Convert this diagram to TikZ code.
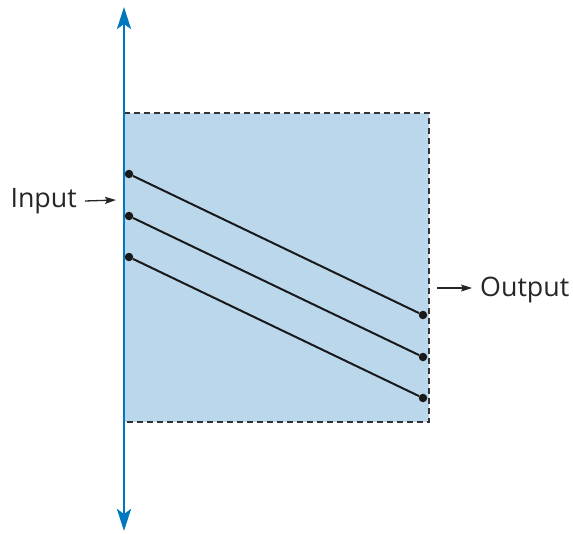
\documentclass[tikz,border=0pt]{standalone}
\usepackage{fontspec}
\setmainfont{Open Sans}
\usetikzlibrary{positioning,arrows.meta}
\definecolor{axisblue}{RGB}{0,119,190}
\definecolor{boxblue}{RGB}{187,215,235}
\tikzset{axistip/.tip={Stealth[length=22pt,width=14pt,inset=5pt]}}

\begin{document}
\begin{tikzpicture}[x=1pt,y=-1pt,font=\fontsize{26.8}{32}\selectfont,
  dot/.style={circle,fill=black!90,inner sep=0pt,minimum size=8.5pt},
  wire/.style={line width=2pt,black!90},
  hint/.style={-{Stealth[length=11pt,width=7pt,inset=2pt]},line width=1.3pt,black!85}]
\useasboundingbox (0,0) rectangle (573,533);
% shaded block
\fill[boxblue] (124,113) rectangle (429,422);
\draw[dash pattern=on 6pt off 4pt,line width=2pt,black!80] (124,113) -- (429,113) -- (429,422) -- (124,422);
% axis
\draw[axisblue,line width=2.6pt,axistip-axistip] (124,7) -- (124,531);
% dots and wires
\node[dot] (in1) at (129,174) {};
\node[dot] (in2) at (129,216) {};
\node[dot] (in3) at (129,257) {};
\node[dot] (out1) at (423,315) {};
\node[dot] (out2) at (423,357) {};
\node[dot] (out3) at (423,398) {};
\draw[wire] (in1) -- (out1);
\draw[wire] (in2) -- (out2);
\draw[wire] (in3) -- (out3);
% labels
\node[anchor=east,inner xsep=8pt,black!85] (input) at (85,201) {Input};
\coordinate (inend) at (116,200);
\draw[hint] (input.east) -- (inend);
\node[anchor=west,inner xsep=8pt,black!85] (output) at (472,290) {Output};
\coordinate (outstart) at (437,288);
\draw[hint] (outstart) -- (outstart -| output.west);
\end{tikzpicture}
\end{document}
